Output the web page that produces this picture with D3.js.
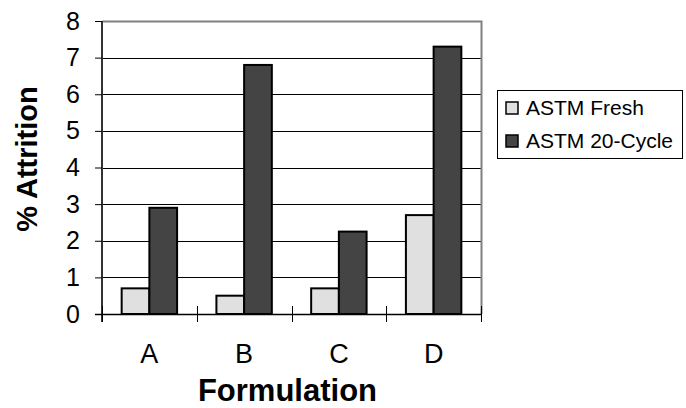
<!DOCTYPE html>
<html>
<head>
<meta charset="utf-8">
<script src="https://cdn.jsdelivr.net/npm/d3@7"></script>
<style>
  html, body { margin: 0; padding: 0; background: #fff; }
  svg { display: block; font-family: Arial, "Liberation Sans", sans-serif; }
</style>
</head>
<body>
<svg id="chart" width="686" height="408"></svg>
<script>
const categories = ["A", "B", "C", "D"];
const seriesNames = ["ASTM Fresh", "ASTM 20-Cycle"];
const freshValues = [0.7, 0.5, 0.7, 2.7];
const cycleValues = [2.9, 6.8, 2.25, 7.3];
const yTicks = [0, 1, 2, 3, 4, 5, 6, 7, 8];
const seriesColors = ["#e0e0e0", "#444444"];

const svg = d3.select("#chart");
const pLeft = 102, pRight = 481, pTop = 21, pBottom = 314;

const x = d3.scaleBand().domain(categories).range([pLeft, pRight])
  .paddingInner(0.415).paddingOuter(0.2075);
const xs = d3.scaleBand().domain(seriesNames).range([0, x.bandwidth()]).padding(0);
const y = d3.scaleLinear().domain([0, 8]).range([pBottom, pTop]);
const color = d3.scaleOrdinal().domain(seriesNames).range(seriesColors);

// gridlines
svg.append("g").selectAll("line").data(yTicks.filter(d => d > 0 && d < 8)).join("line")
  .attr("x1", pLeft).attr("x2", pRight)
  .attr("y1", d => Math.round(y(d)) + 0.5).attr("y2", d => Math.round(y(d)) + 0.5)
  .attr("stroke", "#000").attr("stroke-width", 1);

// plot frame (top & right gray)
svg.append("path")
  .attr("d", `M${pLeft},${Math.round(y(8)) + 0.5}H${pRight + 0.5}V${pBottom}`)
  .attr("fill", "none").attr("stroke", "#808080").attr("stroke-width", 2);

// bars
const rows = categories.map((c, i) => ({ cat: c, vals: [freshValues[i], cycleValues[i]] }));
const g = svg.append("g").selectAll("g").data(rows).join("g")
  .attr("transform", d => `translate(${x(d.cat)},0)`);
g.selectAll("rect").data(d => seriesNames.map((s, j) => ({ s, v: d.vals[j] }))).join("rect")
  .attr("x", d => xs(d.s))
  .attr("width", xs.bandwidth())
  .attr("y", d => y(d.v))
  .attr("height", d => y(0) - y(d.v))
  .attr("fill", d => color(d.s))
  .attr("stroke", "#000").attr("stroke-width", 2);

// y axis
const yAxis = d3.axisLeft(y).tickValues(yTicks).tickSize(7).tickPadding(15).tickFormat(d3.format("d"));
const ya = svg.append("g").attr("transform", `translate(${pLeft},0)`).call(yAxis);
ya.select(".domain").attr("stroke", "#333").attr("stroke-width", 2).attr("d", `M0,${y(8)}V${pBottom + 8}`);
ya.selectAll(".tick line").attr("stroke", "#000");
ya.selectAll("text").attr("font-size", 25).attr("fill", "#000")
  .attr("font-family", "Arial, 'Liberation Sans', sans-serif");

// x axis baseline
svg.append("line").attr("x1", pLeft - 7).attr("x2", pRight).attr("y1", pBottom + 0.5).attr("y2", pBottom + 0.5)
  .attr("stroke", "#000").attr("stroke-width", 1.5);
// x boundary ticks
const bounds = d3.range(categories.length + 1).map(i => x.range()[0] + i * x.step());
svg.append("g").selectAll("line").data(bounds).join("line")
  .attr("x1", d => Math.round(d) + 0.5).attr("x2", d => Math.round(d) + 0.5)
  .attr("y1", pBottom - 8).attr("y2", pBottom + 8)
  .attr("stroke", "#000").attr("stroke-width", 1);
// x labels
svg.append("g").selectAll("text").data(categories).join("text")
  .attr("x", d => x(d) + x.bandwidth() / 2)
  .attr("y", 363)
  .attr("text-anchor", "middle").attr("font-size", 27).text(d => d);

// axis titles
svg.append("text").attr("x", (pLeft + pRight) / 2 - 4).attr("y", 401)
  .attr("text-anchor", "middle").attr("font-size", 31).attr("font-weight", "bold")
  .text("Formulation");
svg.append("text").attr("transform", `translate(37,${159}) rotate(-90)`)
  .attr("text-anchor", "middle").attr("font-size", 29).attr("font-weight", "bold")
  .text("% Attrition");

// legend
const lg = svg.append("g");
lg.append("rect").attr("x", 497.5).attr("y", 90.5).attr("width", 185).attr("height", 68)
  .attr("fill", "#fff").attr("stroke", "#000").attr("stroke-width", 1);
const li = lg.selectAll("g").data(seriesNames).join("g")
  .attr("transform", (d, i) => `translate(506,${102 + i * 33})`);
li.append("rect").attr("width", 12).attr("height", 12)
  .attr("fill", d => color(d)).attr("stroke", "#000").attr("stroke-width", 1.5);
li.append("text").attr("x", 20).attr("y", 13).attr("font-size", 21).text(d => d);
</script>
</body>
</html>
